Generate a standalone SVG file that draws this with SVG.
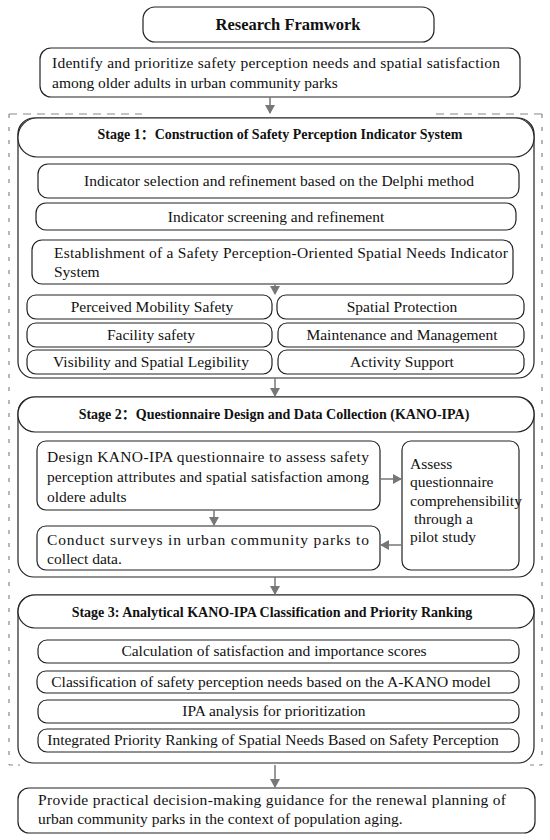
<svg xmlns="http://www.w3.org/2000/svg" width="550" height="840" viewBox="0 0 550 840">
<defs>
<marker id="ah" markerWidth="10" markerHeight="10" refX="8" refY="5" orient="auto" markerUnits="userSpaceOnUse">
<path d="M0,0 L9,5 L0,10 Z" fill="#777"/>
</marker>
<style>
.bx{fill:#fff;stroke:#222;stroke-width:1.2}
.t{font-family:"Liberation Serif","Times New Roman","Noto Sans CJK SC",serif;font-size:15.5px;fill:#111}
.c{text-anchor:middle}
.h{font-family:"Liberation Serif","Times New Roman","Noto Sans CJK SC",serif;font-size:14px;font-weight:bold;fill:#111;text-anchor:middle}
.cn{stroke:#777;stroke-width:1.5;fill:none;marker-end:url(#ah)}
.ds{stroke:#888;stroke-width:1.2;fill:none}
</style>
</defs>
<rect width="550" height="840" fill="#fff"/>

<g id="dashed-frame">
<line class="ds" x1="9" y1="114" x2="142" y2="114" stroke-dasharray="8,6"/>
<line class="ds" x1="436" y1="114" x2="542" y2="114" stroke-dasharray="8,6"/>
<line class="ds" x1="9" y1="114" x2="9" y2="765" stroke-dasharray="4,9"/>
<line class="ds" x1="542" y1="114" x2="542" y2="765" stroke-dasharray="4,9"/>
<line class="ds" x1="9" y1="765" x2="20" y2="765" stroke-dasharray="4,5"/>
<line class="ds" x1="530" y1="765" x2="542" y2="765" stroke-dasharray="4,5"/>
</g>

<g id="title">
<rect class="bx" x="143" y="7" width="291" height="35" rx="12"/>
<text x="288" y="30" class="h" style="font-size:16.5px">Research Framwork</text>
</g>

<g id="goal">
<rect class="bx" x="40" y="48" width="480" height="49" rx="11"/>
<text class="t" x="52" y="68" textLength="448" lengthAdjust="spacing">Identify and prioritize safety perception needs and spatial satisfaction</text>
<text class="t" x="52" y="88">among older adults in urban community parks</text>
</g>

<g id="stage1">
<rect class="bx" x="18" y="118" width="516" height="260" rx="16"/>
<rect class="bx" x="18" y="118" width="516" height="39" rx="19"/>
<text class="h" x="280" y="139">Stage 1：Construction of Safety Perception Indicator System</text>
</g>
<g id="s1-delphi">
<rect class="bx" x="38" y="164" width="481" height="34" rx="10"/>
<text class="t c" x="279" y="186">Indicator selection and refinement based on the Delphi method</text>
</g>
<g id="s1-screening">
<rect class="bx" x="36" y="203" width="480" height="27" rx="10"/>
<text class="t c" x="276" y="222">Indicator screening and refinement</text>
</g>
<g id="s1-system">
<rect class="bx" x="32" y="240" width="481" height="44" rx="10"/>
<text class="t" x="54" y="258" textLength="454" lengthAdjust="spacing">Establishment of a Safety Perception-Oriented Spatial Needs Indicator</text>
<text class="t" x="54" y="277">System</text>
</g>
<g id="s1-mobility">
<rect class="bx" x="27" y="295" width="245" height="24" rx="9"/>
<text class="t c" x="152" y="312">Perceived Mobility Safety</text>
</g>
<g id="s1-protection">
<rect class="bx" x="277" y="295" width="247" height="24" rx="9"/>
<text class="t c" x="402" y="312">Spatial Protection</text>
</g>
<g id="s1-facility">
<rect class="bx" x="27" y="323" width="245" height="24" rx="9"/>
<text class="t c" x="151" y="340">Facility safety</text>
</g>
<g id="s1-maintenance">
<rect class="bx" x="278" y="323" width="246" height="24" rx="9"/>
<text class="t c" x="402" y="340">Maintenance and Management</text>
</g>
<g id="s1-visibility">
<rect class="bx" x="27" y="350" width="245" height="24" rx="9"/>
<text class="t c" x="151" y="367">Visibility and Spatial Legibility</text>
</g>
<g id="s1-activity">
<rect class="bx" x="278" y="350" width="246" height="24" rx="9"/>
<text class="t c" x="402" y="367">Activity Support</text>
</g>

<g id="stage2">
<rect class="bx" x="18" y="397" width="516" height="180" rx="16"/>
<rect class="bx" x="18" y="397" width="516" height="35" rx="17"/>
<text class="h" x="274" y="419">Stage 2：Questionnaire Design and Data Collection (KANO-IPA)</text>
</g>
<g id="s2-design">
<rect class="bx" x="37" y="441" width="343" height="69" rx="9"/>
<text class="t" x="47" y="462" textLength="322" lengthAdjust="spacing">Design KANO-IPA questionnaire to assess safety</text>
<text class="t" x="47" y="482" textLength="322" lengthAdjust="spacing">perception attributes and spatial satisfaction among</text>
<text class="t" x="47" y="502">oldere adults</text>
</g>
<g id="s2-conduct">
<rect class="bx" x="37" y="526" width="343" height="44" rx="9"/>
<text class="t" x="47" y="545" textLength="322" lengthAdjust="spacing">Conduct surveys in urban community parks to</text>
<text class="t" x="47" y="564">collect data.</text>
</g>
<g id="s2-assess">
<rect class="bx" x="402" y="441" width="117" height="129" rx="9"/>
<text class="t" x="410" y="469">Assess</text>
<text class="t" x="410" y="487">questionnaire</text>
<text class="t" x="410" y="506">comprehensibility</text>
<text class="t" x="410" y="524" xml:space="preserve"> through a</text>
<text class="t" x="410" y="542">pilot study</text>
</g>

<g id="stage3">
<rect class="bx" x="18" y="595" width="516" height="168" rx="16"/>
<rect class="bx" x="18" y="595" width="516" height="33" rx="17"/>
<text class="h" x="272" y="617">Stage 3: Analytical KANO-IPA Classification and Priority Ranking</text>
</g>
<g id="s3-calc">
<rect class="bx" x="38" y="640" width="481" height="23" rx="9"/>
<text class="t c" x="274" y="656">Calculation of satisfaction and importance scores</text>
</g>
<g id="s3-class">
<rect class="bx" x="37" y="671" width="482" height="22" rx="9"/>
<text class="t c" x="271" y="687">Classification of safety perception needs based on the A-KANO model</text>
</g>
<g id="s3-ipa">
<rect class="bx" x="38" y="700" width="481" height="23" rx="9"/>
<text class="t c" x="274" y="716">IPA analysis for prioritization</text>
</g>
<g id="s3-integrated">
<rect class="bx" x="38" y="729" width="481" height="23" rx="9"/>
<text class="t c" x="273" y="745">Integrated Priority Ranking of Spatial Needs Based on Safety Perception</text>
</g>

<g id="guidance">
<rect class="bx" x="18" y="788" width="517" height="45" rx="11"/>
<text class="t" x="38" y="805" textLength="468" lengthAdjust="spacing">Provide practical decision-making guidance for the renewal planning of</text>
<text class="t" x="38" y="824">urban community parks in the context of population aging.</text>
</g>

<g id="connectors">
<line class="cn" x1="270" y1="97" x2="270" y2="113"/>
<line class="cn" x1="275" y1="284" x2="275" y2="294"/>
<line class="cn" x1="275" y1="378" x2="275" y2="396"/>
<line class="cn" x1="380" y1="479" x2="401" y2="479"/>
<line class="cn" x1="402" y1="545" x2="381" y2="545"/>
<line class="cn" x1="214" y1="510" x2="214" y2="525"/>
<line class="cn" x1="275" y1="577" x2="275" y2="594"/>
<line class="cn" x1="275" y1="765" x2="275" y2="787"/>
</g>
</svg>
